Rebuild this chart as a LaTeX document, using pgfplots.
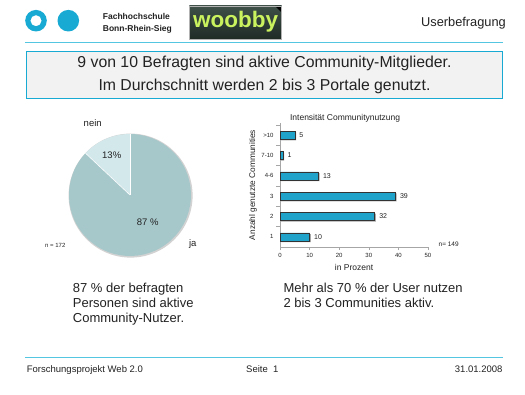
\documentclass[border=0pt]{standalone}
\usepackage{pgfplots}
\pgfplotsset{compat=1.18}
\usepackage{fontspec}
\setmainfont{Liberation Sans}
\definecolor{cy}{HTML}{18AAD3}
\definecolor{cyline}{HTML}{55C6E2}
\definecolor{boxgray}{HTML}{F2F2F2}
\definecolor{barcy}{HTML}{1FA3CB}
\definecolor{jacol}{HTML}{A7C8CB}
\definecolor{neincol}{HTML}{D3E8EB}
\definecolor{txt}{HTML}{222222}
\definecolor{logotop}{HTML}{3E5048}
\definecolor{logobot}{HTML}{1F2A25}
\definecolor{logogreen}{HTML}{C9F25E}
\pgfplotstableread{
cat val
1 10
2 32
3 39
4 13
5 1
6 5
}\bardata
\begin{document}
\begin{tikzpicture}[x=1pt,y=1pt]
\useasboundingbox (0pt,0pt) rectangle (525pt,394pt);
\fill[white] (0pt,0pt) rectangle (525pt,394pt);
% header
\fill[cy, even odd rule] (36,373.3) circle (10.8pt) (36,373.3) circle (5.6pt);
\fill[cy] (68.3,373.3) circle (10.8pt);
\node[anchor=west, font=\fontsize{8.5}{10}\selectfont\bfseries, inner sep=0, text=txt] at (102.7,378) {Fachhochschule};
\node[anchor=west, font=\fontsize{8.5}{10}\selectfont\bfseries, inner sep=0, text=txt] at (102.7,364.7) {Bonn-Rhein-Sieg};
\shade[top color=logotop, bottom color=logobot] (189.3,354.7) rectangle (281.7,388);
\fill[black] (275,388) -- (281.7,388) -- (281.7,381.3) -- cycle;
\draw[gray!60, line width=0.5pt] (189.3,354.7) rectangle (281.7,388);
\node[text=logogreen, font=\fontsize{22.5}{22}\selectfont\bfseries, inner sep=0] at (235.5,372.5) {woobby};
\node[anchor=east, inner sep=0, font=\fontsize{12.8}{14}\selectfont, text=txt] at (506,371.3) {Userbefragung};
\draw[cyline, line width=1pt] (25,351.7) -- (503,351.7);
% title box
\draw[cy, line width=1.2pt, fill=boxgray] (26.7,295.7) rectangle (502.3,342.3);
\node[align=center, inner sep=0, text=txt, font=\fontsize{15.8}{22.7}\selectfont] at (264.5,319.3) {9 von 10 Befragten sind aktive Community-Mitglieder.\\Im Durchschnitt werden 2 bis 3 Portale genutzt.};
% pie
\begin{axis}[at={(130pt,199pt)}, anchor=center, x=1pt, y=1pt, hide axis,
  xmin=-66, xmax=66, ymin=-66, ymax=66, clip=false]
  \pgfmathsetmacro\ja{87}
  \pgfmathsetmacro\nein{13}
  \pgfmathsetmacro\split{90+3.6*\nein}
  \fill[gray!35] (axis cs:0.6,-0.6) circle (62pt);
  \fill[neincol] (axis cs:0,0) -- (axis cs:0,61) arc[start angle=90, end angle=\split, radius=61pt] -- cycle;
  \fill[jacol] (axis cs:0,0) -- ++(\split:61pt) arc[start angle=\split, end angle=450, radius=61pt] -- cycle;
  \draw[white, line width=0.6pt] (axis cs:0,0) -- (axis cs:0,61);
  \draw[white, line width=0.6pt] (axis cs:0,0) -- ++(\split:61pt);
\end{axis}
\node[text=txt, font=\fontsize{9.5}{11}\selectfont] at (92.7,270.7) {nein};
\node[text=txt, font=\fontsize{9.5}{11}\selectfont] at (111.7,239) {13\%};
\node[text=txt, font=\fontsize{9.5}{11}\selectfont] at (147.7,171.3) {87 \%};
\node[text=txt, font=\fontsize{9.5}{11}\selectfont] at (192.7,150) {ja};
\node[text=txt, font=\fontsize{6}{7}\selectfont] at (55.3,148.3) {n = 172};
% bar chart
\begin{axis}[at={(280pt,147pt)}, anchor=south west, width=148pt, height=124pt, scale only axis,
  xbar, bar width=8pt, bar shift=0pt,
  xmin=0, xmax=50, ymin=0.5, ymax=6.6,
  axis lines*=left, axis line style={gray!70, line width=0.6pt},
  xtick={0,10,20,30,40,50}, ytick={1,2,3,4,5,6},
  yticklabels={1,2,3,4-6,7-10,>10},
  minor ytick={1.5,2.5,3.5,4.5,5.5,6.5},
  major y tick style={draw=none},
  minor tick length=4pt, major tick length=3pt,
  tick align=outside, tick style={gray!70, line width=0.5pt},
  ticklabel style={font=\fontsize{6}{7}\selectfont, text=txt},
  /pgf/number format/assume math mode=true,
  every axis title shift=0pt,
  title={Intensität Communitynutzung},
  title style={at={(axis description cs:0.44,1)}, anchor=south, inner sep=0, yshift=1pt, font=\fontsize{8.5}{10}\selectfont, text=txt},
  xlabel={in Prozent},
  xlabel style={at={(axis description cs:0.5,0)}, anchor=center, yshift=-20pt, font=\fontsize{8.5}{10}\selectfont, text=txt},
  ylabel={Anzahl genutzte Communities},
  ylabel style={at={(axis description cs:-0.182,0.5)}, anchor=center, font=\fontsize{8.3}{10}\selectfont, text=txt},
  clip=false]
  \addplot[fill=gray!70, draw=none, transform canvas={xshift=1.2pt, yshift=-1.2pt}] table[x=val, y=cat] {\bardata};
  \addplot[fill=barcy, draw=black!80, line width=0.5pt,
    nodes near coords, nodes near coords align={horizontal},
    every node near coord/.append style={font=\fontsize{7}{8}\selectfont, text=txt, xshift=1pt}] table[x=val, y=cat] {\bardata};
\end{axis}
\node[text=txt, font=\fontsize{6.5}{7}\selectfont] at (448.7,150) {n= 149};
% bottom texts
\node[anchor=base west, inner sep=0, text=txt, font=\fontsize{13}{15}\selectfont] at (72.7,101.2) {87 \% der befragten};
\node[anchor=base west, inner sep=0, text=txt, font=\fontsize{13}{15}\selectfont] at (72.7,86.2) {Personen sind aktive};
\node[anchor=base west, inner sep=0, text=txt, font=\fontsize{13}{15}\selectfont] at (72.7,71.2) {Community-Nutzer.};
\node[anchor=base west, inner sep=0, text=txt, font=\fontsize{13}{15}\selectfont] at (283.3,101.2) {Mehr als 70 \% der User nutzen};
\node[anchor=base west, inner sep=0, text=txt, font=\fontsize{13}{15}\selectfont] at (283.3,86.2) {2 bis 3 Communities aktiv.};
% footer
\draw[cyline, line width=1pt] (25,37) -- (503,37);
\node[anchor=base west, inner sep=0, text=txt, font=\fontsize{9.5}{11}\selectfont] at (26.7,22) {Forschungsprojekt Web 2.0};
\node[anchor=base west, inner sep=0, text=txt, font=\fontsize{9.5}{11}\selectfont] at (246,22) {Seite~~1};
\node[anchor=base east, inner sep=0, text=txt, font=\fontsize{9.5}{11}\selectfont] at (502.7,22) {31.01.2008};
\end{tikzpicture}
\end{document}
